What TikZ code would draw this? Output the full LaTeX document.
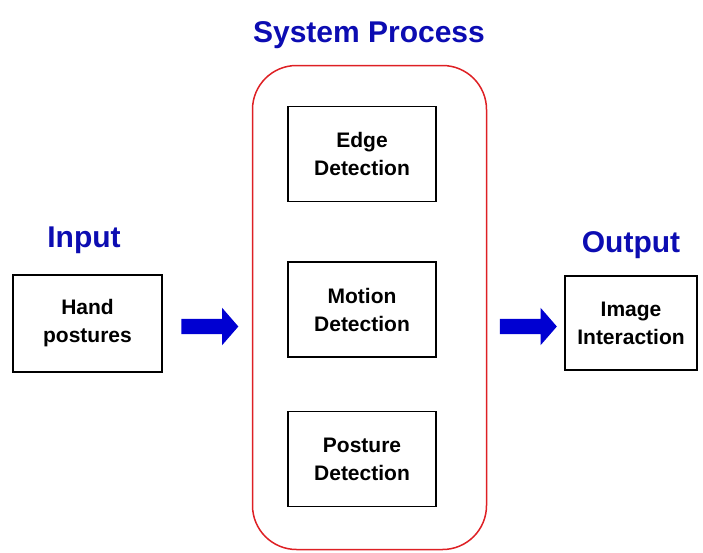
\documentclass[tikz,border=0pt]{standalone}
\usepackage{fontspec}
\setmainfont{Liberation Sans}
\usetikzlibrary{shapes.arrows}

\definecolor{titleblue}{RGB}{12,12,178}
\definecolor{arrowblue}{RGB}{0,0,210}
\definecolor{procred}{RGB}{222,32,36}

\newcommand{\boxfont}{\fontsize{21}{28}\selectfont\bfseries}
\newcommand{\titlefont}{\fontsize{30}{34}\selectfont\bfseries}

\begin{document}
\begin{tikzpicture}[x=1pt,y=-1pt,
    stage/.style={draw,line width=1.3pt,align=center,font=\boxfont,inner sep=0pt},
    heading/.style={anchor=base,text=titleblue,font=\titlefont,inner sep=0pt},
    blockarrow/.style={single arrow,fill=arrowblue,draw=none,inner xsep=0pt,inner ysep=7.5pt,
        text height=0pt,text depth=0pt,minimum height=57pt,
        single arrow head extend=11pt,single arrow tip angle=98}]

\useasboundingbox (0,0) rectangle (703,552);

\path (369,42) node[heading] (proctitle) {System Process};
\path (84,247) node[heading] (intitle) {Input};
\path (631,252) node[heading] (outtitle) {Output};

\node[draw=procred,line width=1.5pt,rounded corners=44pt,minimum width=234pt,minimum height=484pt]
    (proc) at (369.5,307.5) {};

\node[stage,minimum width=148pt,minimum height=95pt] (edge) at (362,154) {Edge\\Detection};
\node[stage,minimum width=148pt,minimum height=95pt] (motion) at (362,309.5) {Motion\\Detection};
\node[stage,minimum width=148pt,minimum height=95pt] (posture) at (362,459) {Posture\\Detection};

\node[stage,minimum width=149pt,minimum height=97pt] (hand) at (87.5,323.5) {Hand\\postures};
\node[stage,minimum width=132pt,minimum height=94pt] (image) at (631,323) {Image\\Interaction};

\node[blockarrow] (inarrow) at (206.5,326.5) {};
\node[blockarrow] (outarrow) at (525,326.5) {};

\end{tikzpicture}
\end{document}
